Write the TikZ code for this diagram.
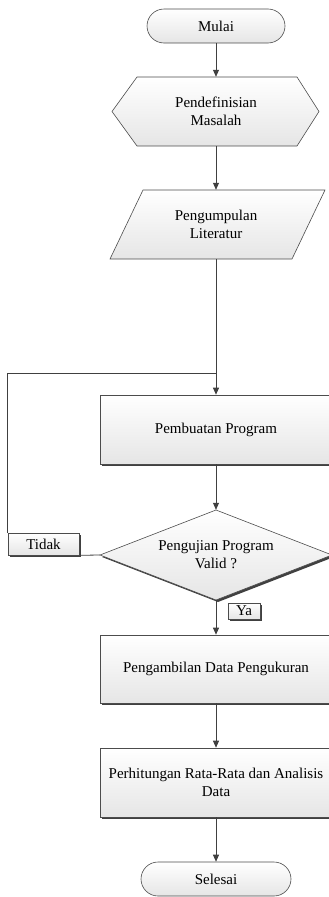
\documentclass[tikz,border=0pt]{standalone}
\usepackage{fontspec}
\setmainfont{Liberation Serif}
\usetikzlibrary{arrows.meta,shadows}
\begin{document}
\begin{tikzpicture}[x=1pt,y=1pt,
  line/.style={draw=black!75, line width=0.8pt},
  arr/.style={line, -{Triangle[width=6pt,length=7pt]}},
  shd/.style={top color=white, bottom color=black!10},
  shp/.style={draw=black!70, line width=0.6pt, shd},
  shadowed/.style={drop shadow={shadow xshift=2pt,shadow yshift=-2pt,fill=black!75,opacity=1}},
  box/.style={shp, shadowed},
  txt/.style={font=\fontsize{15}{18}\selectfont, align=center, inner sep=0pt},
]
\useasboundingbox (0,0) rectangle (329,-897);
% terminals
\node[shp, txt, rounded corners=17pt, minimum width=138pt, minimum height=34pt] (mulai) at (216,-26) {Mulai};
% hexagon
\path[shp] (112,-111.5) -- (137,-77) -- (297,-77) -- (319,-111.5) -- (297,-146) -- (137,-146) -- cycle;
\node[txt, minimum width=160pt, minimum height=69pt] (def) at (216,-111.5) {Pendefinisian\\Masalah};
% parallelogram
\path[shp] (110,-259) -- (143,-190) -- (325,-190) -- (292,-259) -- cycle;
\node[txt, minimum width=150pt, minimum height=69pt] (lit) at (216,-224.5) {Pengumpulan\\Literatur};
% process boxes
\node[box, txt, minimum width=232pt, minimum height=69pt] (prog) at (216,-429.5) {Pembuatan Program};
% diamond
\path[shp, shadowed] (216,-510) -- (332,-555) -- (216,-600) -- (100,-555) -- cycle;
\node[txt, minimum width=232pt, minimum height=90pt] (valid) at (216,-555) {Pengujian Program\\Valid ?};
\node[box, txt, minimum width=232pt, minimum height=68pt] (ambil) at (216,-669) {Pengambilan Data Pengukuran};
\node[box, txt, minimum width=232pt, minimum height=69pt] (hitung) at (216,-782.5) {Perhitungan Rata-Rata dan Analisis\\Data};
\node[shp, txt, rounded corners=17pt, minimum width=150pt, minimum height=34pt] (selesai) at (216,-879) {Selesai};
% labels
\node[box, txt, minimum width=71pt, minimum height=22pt] (tidak) at (43.5,-544) {Tidak};
\node[box, txt, minimum width=32pt, minimum height=16pt] (ya) at (244,-611) {Ya};
% connectors
\coordinate (jn) at (216,-373);
\draw[arr] (mulai.south) -- (def.north);
\draw[arr] (def.south) -- (lit.north);
\draw[line] (lit.south) -- (jn);
\draw[arr] (jn) -- (prog.north);
\draw[arr] (prog.south) -- (valid.north);
\draw[line] (valid.west) -- (tidak.south east);
\draw[line] (tidak.north west) |- (jn);
\draw[arr] (valid.south) -- (ambil.north);
\draw[arr] (ambil.south) -- (hitung.north);
\draw[arr] (hitung.south) -- (selesai.north);
\end{tikzpicture}
\end{document}
